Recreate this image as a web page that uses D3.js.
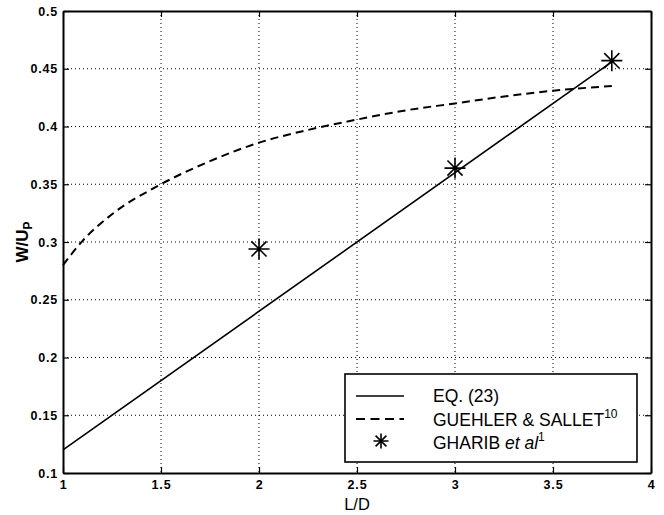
<!DOCTYPE html>
<html><head><meta charset="utf-8">
<script src="https://cdn.jsdelivr.net/npm/d3@7"></script>
<style>
html,body{margin:0;padding:0;background:#fff;}
text{font-family:"Liberation Sans",Arial,Helvetica,sans-serif;fill:#000;}
</style></head>
<body><svg id="c" width="664" height="515"></svg>
<script>
const xTicks = [1, 1.5, 2, 2.5, 3, 3.5, 4];
const yTicks = [0.1, 0.15, 0.2, 0.25, 0.3, 0.35, 0.4, 0.45, 0.5];
const eqX = [1, 3.8];
const eqY = [0.12, 0.456];
const guehlerX = [1.0, 1.1, 1.25, 1.5, 1.75, 2.0, 2.25, 2.5, 2.75, 3.0, 3.25, 3.5, 3.8];
const guehlerY = [0.280, 0.301, 0.324, 0.350, 0.370, 0.386, 0.397, 0.406, 0.414, 0.420, 0.426, 0.431, 0.435];
const gharibX = [2, 3, 3.8];
const gharibY = [0.294, 0.364, 0.457];
const legendLabels = ["EQ. (23)", "GUEHLER & SALLET", "GHARIB "];

const svg = d3.select("#c");
const L = 63, R = 651, T = 11, B = 473;
const x = d3.scaleLinear().domain([1, 4]).range([L, R]);
const y = d3.scaleLinear().domain([0.1, 0.5]).range([B, T]);

// grid
const grid = svg.append("g").attr("stroke", "#000").attr("stroke-width", 1).attr("stroke-dasharray", "1,3");
xTicks.slice(1, -1).forEach(v => grid.append("line").attr("x1", x(v)).attr("x2", x(v)).attr("y1", T).attr("y2", B));
yTicks.slice(1, -1).forEach(v => grid.append("line").attr("x1", L).attr("x2", R).attr("y1", y(v)).attr("y2", y(v)));

// axes (ticks inside)
const fmt = d => String(d);
const axB = svg.append("g").attr("transform", `translate(0,${B})`)
  .call(d3.axisBottom(x).tickValues(xTicks).tickFormat(fmt).tickSizeInner(-6).tickSizeOuter(0).tickPadding(7));
const axT = svg.append("g").attr("transform", `translate(0,${T})`)
  .call(d3.axisTop(x).tickValues(xTicks).tickFormat("").tickSizeInner(-6).tickSizeOuter(0));
const axL = svg.append("g").attr("transform", `translate(${L},0)`)
  .call(d3.axisLeft(y).tickValues(yTicks).tickFormat(fmt).tickSizeInner(-6).tickSizeOuter(0).tickPadding(5));
const axR = svg.append("g").attr("transform", `translate(${R},0)`)
  .call(d3.axisRight(y).tickValues(yTicks).tickFormat("").tickSizeInner(-6).tickSizeOuter(0));
[axB, axT, axL, axR].forEach(a => {
  a.select(".domain").attr("stroke-width", 2);
  a.selectAll(".tick line").attr("stroke-width", 1.2);
  a.selectAll("text").attr("font-size", 12.5).attr("font-weight", "bold")
    .attr("letter-spacing", 0.8).attr("font-family", '"Liberation Sans",Arial,sans-serif');
});

// data lines
const lineGen = d3.line().x(d => x(d[0])).y(d => y(d[1]));
svg.append("path").datum(eqX.map((v, i) => [v, eqY[i]]))
  .attr("d", lineGen).attr("fill", "none").attr("stroke", "#000").attr("stroke-width", 1.6);
svg.append("path").datum(guehlerX.map((v, i) => [v, guehlerY[i]]))
  .attr("d", lineGen.curve(d3.curveMonotoneX)).attr("fill", "none").attr("stroke", "#000")
  .attr("stroke-width", 2).attr("stroke-dasharray", "8,5");

function star(g, cx, cy, r) {
  const d = r * 0.72;
  const p = `M${cx - r},${cy}L${cx + r},${cy}M${cx},${cy - r}L${cx},${cy + r}` +
            `M${cx - d},${cy - d}L${cx + d},${cy + d}M${cx - d},${cy + d}L${cx + d},${cy - d}`;
  g.append("path").attr("d", p).attr("stroke", "#000").attr("stroke-width", 1.6).attr("fill", "none");
}
const stars = svg.append("g");
gharibX.forEach((v, i) => star(stars, x(v), y(gharibY[i]), 10.5));

// axis labels
svg.append("text").attr("x", 357).attr("y", 510).attr("text-anchor", "middle")
  .attr("font-size", 16.5).text("L/D");
const yl = svg.append("text").attr("transform", "translate(28,242) rotate(-90)")
  .attr("text-anchor", "middle").attr("font-size", 17).attr("font-weight", "bold");
yl.append("tspan").text("W/U");
yl.append("tspan").attr("font-size", 12).attr("dy", 4).text("P");

// legend
const lg = svg.append("g");
lg.append("rect").attr("x", 345).attr("y", 374).attr("width", 292).attr("height", 88)
  .attr("fill", "#fff").attr("stroke", "#000").attr("stroke-width", 1.6);
const rowY = [396, 419, 441];
lg.append("line").attr("x1", 356).attr("x2", 404).attr("y1", rowY[0]).attr("y2", rowY[0])
  .attr("stroke", "#000").attr("stroke-width", 1.6);
lg.append("line").attr("x1", 356).attr("x2", 404).attr("y1", rowY[1]).attr("y2", rowY[1])
  .attr("stroke", "#000").attr("stroke-width", 1.8).attr("stroke-dasharray", "9,5.5");
star(lg, 381, rowY[2], 7.5);
const t0 = lg.append("text").attr("x", 433).attr("y", rowY[0] + 6).attr("font-size", 17.5).text(legendLabels[0]);
const t1 = lg.append("text").attr("x", 433).attr("y", rowY[1] + 7).attr("font-size", 17.5);
t1.append("tspan").text(legendLabels[1]);
t1.append("tspan").attr("font-size", 12).attr("dy", -8).text("10");
const t2 = lg.append("text").attr("x", 433).attr("y", rowY[2] + 8).attr("font-size", 17.5);
t2.append("tspan").text(legendLabels[2]);
t2.append("tspan").attr("font-style", "italic").text("et al");
t2.append("tspan").attr("font-size", 12).attr("dy", -8).text("1");
</script></body></html>
